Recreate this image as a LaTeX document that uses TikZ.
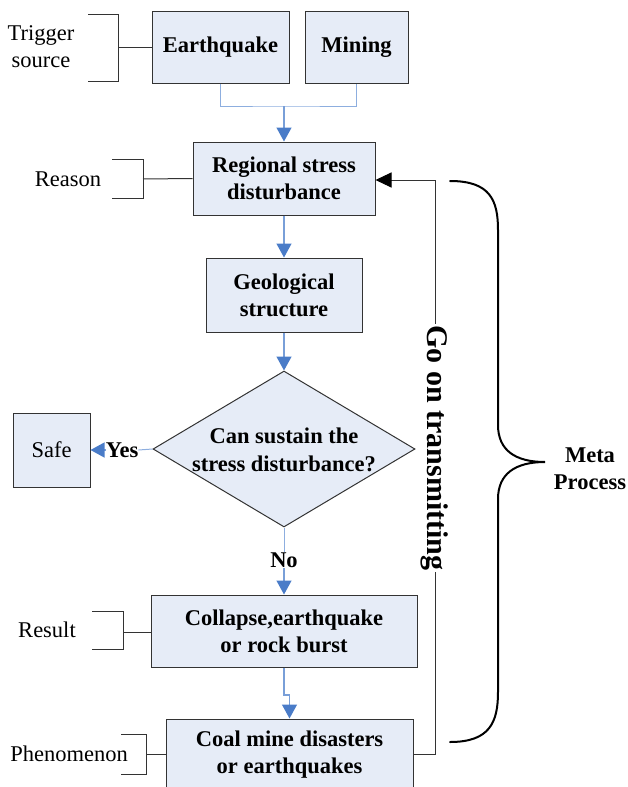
\documentclass[tikz,border=0pt]{standalone}
\usepackage{fontspec}
\setmainfont{Liberation Serif}
\usetikzlibrary{shapes.geometric,arrows.meta}
\definecolor{boxfill}{HTML}{E6ECF7}
\definecolor{lineblue}{HTML}{8DAEDF}
\definecolor{arrblue}{HTML}{4A7CC8}
\definecolor{edge}{HTML}{333333}
\tikzset{
  fs/.style={font=\fontsize{22.5}{27}\selectfont},
  box/.style={draw=edge, fill=boxfill, line width=1pt, align=center, inner sep=0pt,
              font=\fontsize{22.5}{27}\selectfont\bfseries},
  lbl/.style={align=center, inner sep=0pt, font=\fontsize{22.5}{27}\selectfont},
  blbl/.style={align=center, inner sep=0pt, font=\fontsize{22.5}{27}\selectfont\bfseries},
  brk/.style={draw=edge, line width=1pt},
  thinblue/.style={draw=lineblue, line width=1pt},
  bluearrow/.style={draw=lineblue!70!arrblue, line width=1.3pt,
     -{Triangle[length=14pt,width=15pt,color=arrblue]}},
  blackarrow/.style={draw=edge, line width=1pt,
     -{Triangle[length=16pt,width=15pt,color=black]}}
}
\begin{document}
\begin{tikzpicture}[x=1pt,y=-1pt]
\useasboundingbox (0,0) rectangle (628,787);
% boxes
\node[box, minimum width=137, minimum height=72] (eq) at (220.5,47) {Earthquake};
\node[box, minimum width=103, minimum height=72] (mine) at (356.5,47) {Mining};
\node[box, minimum width=182, minimum height=73] (reg) at (284,178.5) {Regional stress\\disturbance};
\node[box, minimum width=156, minimum height=74] (geo) at (284,295) {Geological\\structure};
\node[diamond, draw=edge, fill=boxfill, line width=1pt, inner sep=0pt,
      minimum width=262, minimum height=156] (dia) at (284,449) {};
\node[blbl, font=\fontsize{22.5}{28}\selectfont\bfseries] (diatext) at (284,450) {Can sustain the\\stress disturbance?};
\node[box, font=\fontsize{22.5}{27}\selectfont, minimum width=77, minimum height=74] (safe) at (51.5,450) {Safe};
\node[box, minimum width=266, minimum height=72] (col) at (284,631) {Collapse,earthquake\\or rock burst};
\node[box, minimum width=247, minimum height=72] (phen) at (289.5,755) {Coal mine disasters\\or earthquakes};

% side labels
\node[lbl] (trig) at (41,47) {Trigger\\source};
\node[lbl] (reason) at (68,179) {Reason};
\node[lbl] (result) at (47,630) {Result};
\node[lbl] (phenlab) at (69,754) {Phenomenon};

% brackets
\draw[brk] (88,14) -- (118,14) -- (118,81) -- (88,81);
\draw[brk] (118,47) -- (eq.west);
\draw[brk] (112,159) -- (143,159) -- (143,198) -- (112,198);
\draw[brk] (143,179) -- (reg.west);
\draw[brk] (92,611) -- (123,611) -- (123,649) -- (92,649);
\draw[brk] (123,632) -- (col.west |- 0,632);
\draw[brk] (121,734) -- (146,734) -- (146,774) -- (121,774);
\draw[brk] (146,754) -- (phen.west |- 0,754);

% connectors
\coordinate (merge) at (284,106);
\draw[thinblue] (eq.south) |- (merge) -| (mine.south);
\draw[bluearrow] (merge) -- (reg.north);
\draw[bluearrow] (reg.south) -- (geo.north);
\draw[bluearrow] (geo.south) -- (dia.north);

\node[blbl] (yes) at (122,450) {Yes};
\draw[thinblue] (dia.west) -- (yes.east);
\draw[bluearrow] (yes.west) -- (safe.east);

\node[blbl] (no) at (284,560) {No};
\draw[thinblue] (dia.south) -- (no.north);
\draw[bluearrow] (no.south) -- (col.north);

\coordinate (jog) at (284,695);
\draw[bluearrow] (col.south) -- (jog) -| (phen.north);

% feedback
\coordinate (fb) at (435,754);
\draw[blackarrow] (phen.east |- fb) -- (fb) |- (reg.east |- 0,180);
\node[blbl, font=\fontsize{30}{36}\selectfont\bfseries, fill=white, inner sep=1pt, rotate=-90] (goon) at (435,448) {Go on transmitting};

% brace
\draw[line width=2pt, line cap=round] (450,181) .. controls (490,181) and (498,200) .. (498,230)
  -- (498,425) .. controls (498,450) and (515,462) .. (545,462)
  .. controls (515,462) and (498,474) .. (498,499)
  -- (498,692) .. controls (498,722) and (490,742) .. (450,742);
\node[blbl, font=\fontsize{22.5}{27}\selectfont\bfseries] (meta) at (590,469) {Meta\\Process};
\end{tikzpicture}
\end{document}
